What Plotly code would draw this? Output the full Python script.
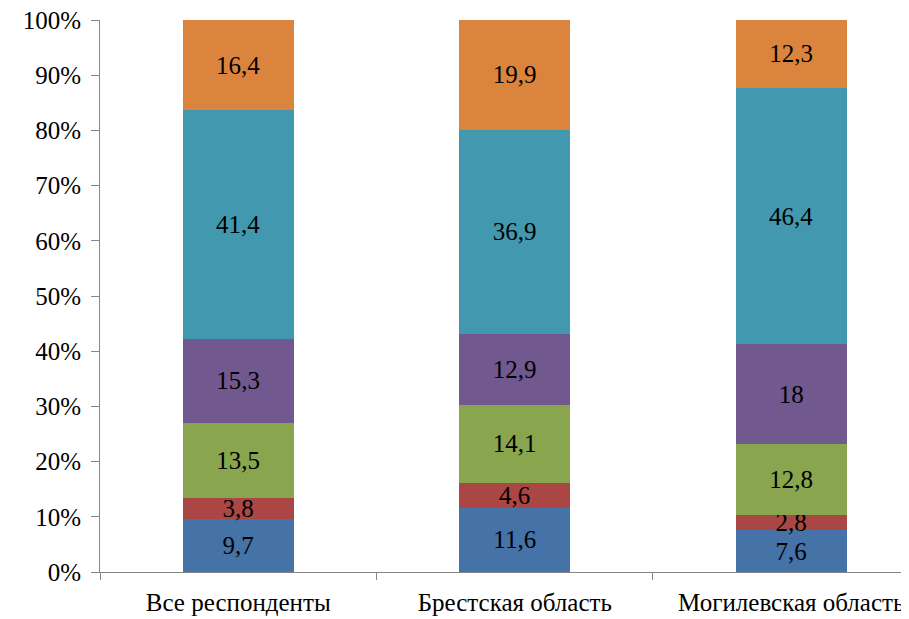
import plotly.graph_objects as go

categories = ["Все респонденты", "Брестская область", "Могилевская область"]
series_values = [
    [9.7, 11.6, 7.6],
    [3.8, 4.6, 2.8],
    [13.5, 14.1, 12.8],
    [15.3, 12.9, 18],
    [41.4, 36.9, 46.4],
    [16.4, 19.9, 12.3],
]
colors = ["#4572A7", "#AA4643", "#89A54E", "#71588F", "#4198AF", "#DB843D"]
ytick_vals = list(range(0, 101, 10))
ytick_text = [f"{v}%" for v in ytick_vals]

FONT = "Liberation Serif, Times New Roman, serif"
FS = 25

fig = go.Figure()
for vals, col in zip(series_values, colors):
    fig.add_trace(go.Bar(
        x=categories, y=vals,
        marker=dict(color=col, line=dict(width=0)),
        text=[str(v).replace(".", ",") for v in vals],
        textposition="inside", insidetextanchor="middle", textangle=0,
        textfont=dict(color="black", size=FS, family=FONT),
        width=0.4, showlegend=False, hoverinfo="skip",
    ))

fig.update_layout(
    barmode="stack", barnorm="percent",
    width=901, height=611,
    margin=dict(l=92, r=0, t=12, b=47, autoexpand=False),
    paper_bgcolor="white", plot_bgcolor="white",
    font=dict(family=FONT, size=FS, color="black"),
    uniformtext=dict(minsize=FS, mode="show"),
    xaxis=dict(
        range=[-0.5, 2.426], showline=True, linecolor="#868686", linewidth=1,
        ticks="outside", tickson="boundaries", ticklen=7, tickcolor="#868686",
        showgrid=False, automargin=False, ticklabelstandoff=8,
        ticklabeloverflow="allow",
        tickfont=dict(size=FS, family=FONT),
    ),
    yaxis=dict(
        range=[0, 100], tickvals=ytick_vals, ticktext=ytick_text,
        showline=True, linecolor="#868686", linewidth=1,
        ticks="outside", ticklen=8, tickcolor="#868686",
        showgrid=False, zeroline=False, automargin=False, ticklabelstandoff=5,
        ticklabeloverflow="allow",
        tickfont=dict(size=FS, family=FONT),
    ),
)

fig.write_html("out.html")
